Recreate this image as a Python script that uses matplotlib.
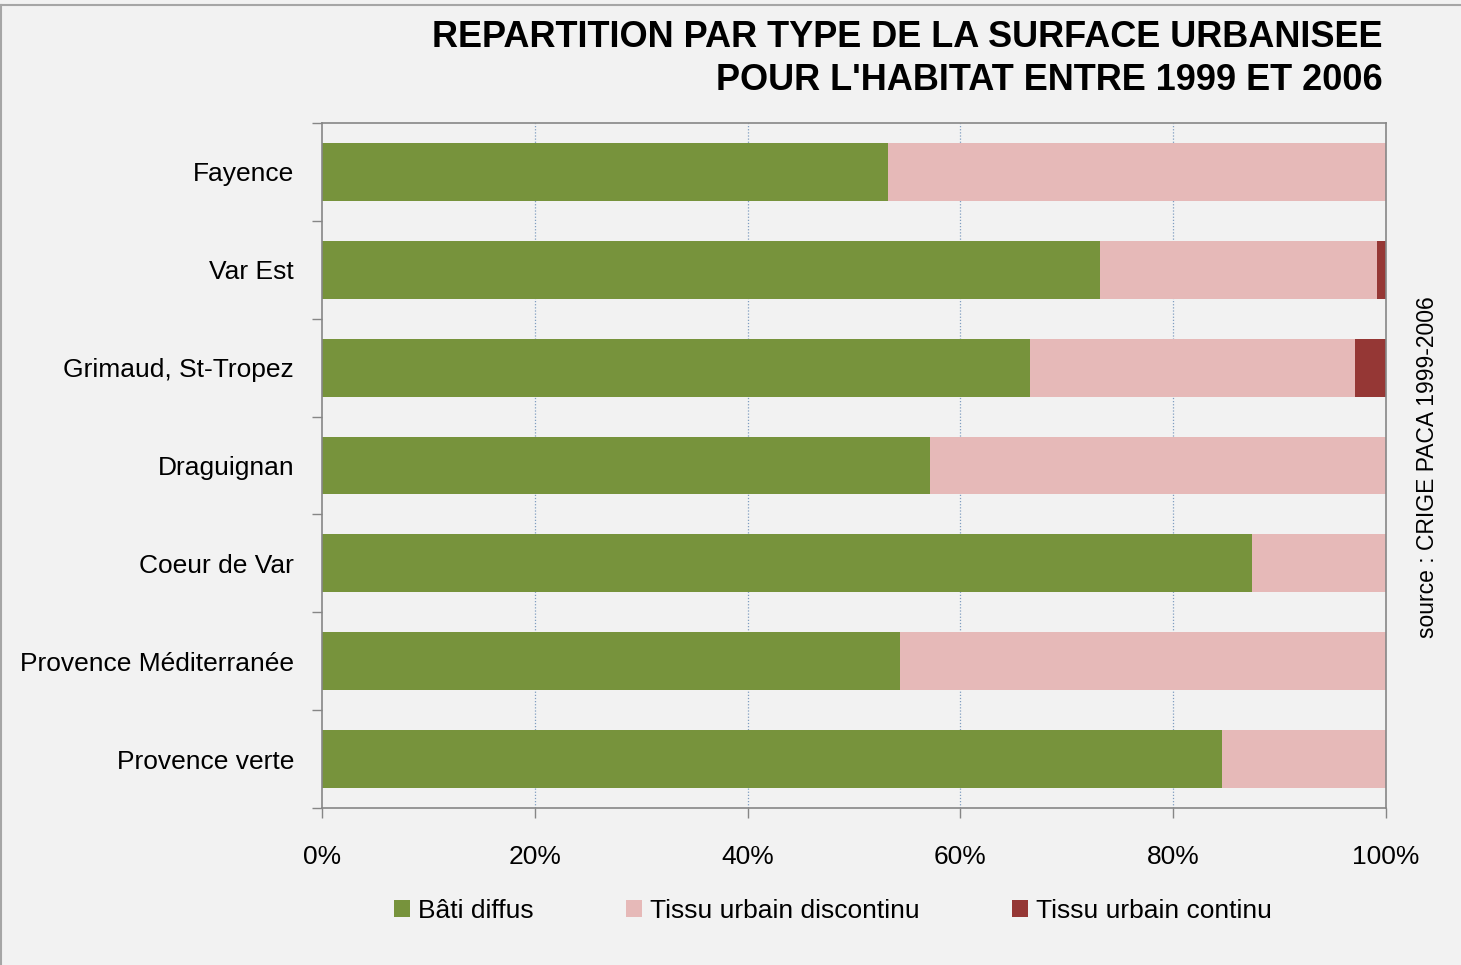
import matplotlib.pyplot as plt
from matplotlib.lines import Line2D
from matplotlib.ticker import FixedLocator, PercentFormatter

# police de base (pas de version etroite dispo -> taille reduite)
police = 'Liberation Sans'

# --- donnees (en %) ---
secteurs = ['Fayence', 'Var Est', 'Grimaud, St-Tropez', 'Draguignan',
            'Coeur de Var', 'Provence Méditerranée', 'Provence verte']
bati_diffus = [53.2, 73.1, 66.5, 57.1, 87.4, 54.3, 84.6]
tissu_discontinu = [46.8, 26.1, 30.6, 42.9, 12.6, 45.7, 15.4]
tissu_continu = [0.0, 0.8, 2.9, 0.0, 0.0, 0.0, 0.0]
series = ['Bâti diffus', 'Tissu urbain discontinu', 'Tissu urbain continu']

couleurs = ['#77933C', '#E6B9B8', '#953735']
fond = '#F2F2F2'

fig = plt.figure(figsize=(14.61, 9.65), dpi=100, facecolor=fond)
ax = fig.add_axes([322 / 1461, 1 - 808 / 965, 1064 / 1461, 685 / 965])
ax.set_facecolor(fond)

y = list(range(len(secteurs)))
gauche = [0.0] * len(secteurs)
for nom, vals, c in zip(series, [bati_diffus, tissu_discontinu, tissu_continu], couleurs):
    ax.barh(y, vals, left=gauche, height=0.59, color=c, label=nom, zorder=2)
    gauche = [g + v for g, v in zip(gauche, vals)]

ax.set_ylim(len(secteurs) - 0.5, -0.5)
ax.set_xlim(0, 100)

ax.set_yticks(y)
ax.set_yticklabels(secteurs, family=police, fontsize=19)
ax.yaxis.set_minor_locator(FixedLocator([i - 0.5 for i in range(len(secteurs) + 1)]))
ax.tick_params(axis='y', which='major', length=0, pad=20)
ax.tick_params(axis='y', which='minor', length=7, width=1, color='#868686')

ax.set_xticks(range(0, 101, 20))
ax.xaxis.set_major_formatter(PercentFormatter(decimals=0))
for lab in ax.get_xticklabels():
    lab.set_family(police)
    lab.set_fontsize(19)
ax.tick_params(axis='x', length=7, width=1, color='#868686', pad=20)

for x in [20, 40, 60, 80]:
    ax.axvline(x, color='#7F9DC0', lw=0.9, ls=(0, (1, 1.5)), zorder=1)

for s in ax.spines.values():
    s.set_color('#868686')
    s.set_linewidth(1.2)

fig.text(1383 / 1461, 1 - 20 / 965,
         "REPARTITION PAR TYPE DE LA SURFACE URBANISEE\nPOUR L'HABITAT ENTRE 1999 ET 2006",
         ha='right', va='top', fontsize=26, fontweight='bold', family=police,
         linespacing=1.3)

fig.text(1428 / 1461, 1 - 467 / 965, 'source : CRIGE PACA 1999-2006', rotation=90,
         ha='center', va='center', fontsize=16.5, family=police)

fig.legend(loc='center', bbox_to_anchor=(833 / 1461, 1 - 911 / 965), ncol=3,
           frameon=False, prop={'family': police, 'size': 19},
           handlelength=0.6, handleheight=0.6, handletextpad=0.3, columnspacing=3.5)

# cadre gris du graphique
fig.add_artist(Line2D([0, 1], [1 - 5 / 965] * 2, color='#A6A6A6', lw=1.5))
fig.add_artist(Line2D([1 / 1461] * 2, [0, 1 - 5 / 965], color='#A6A6A6', lw=1.5))

fig.savefig('out.png', dpi=100, facecolor=fond)
